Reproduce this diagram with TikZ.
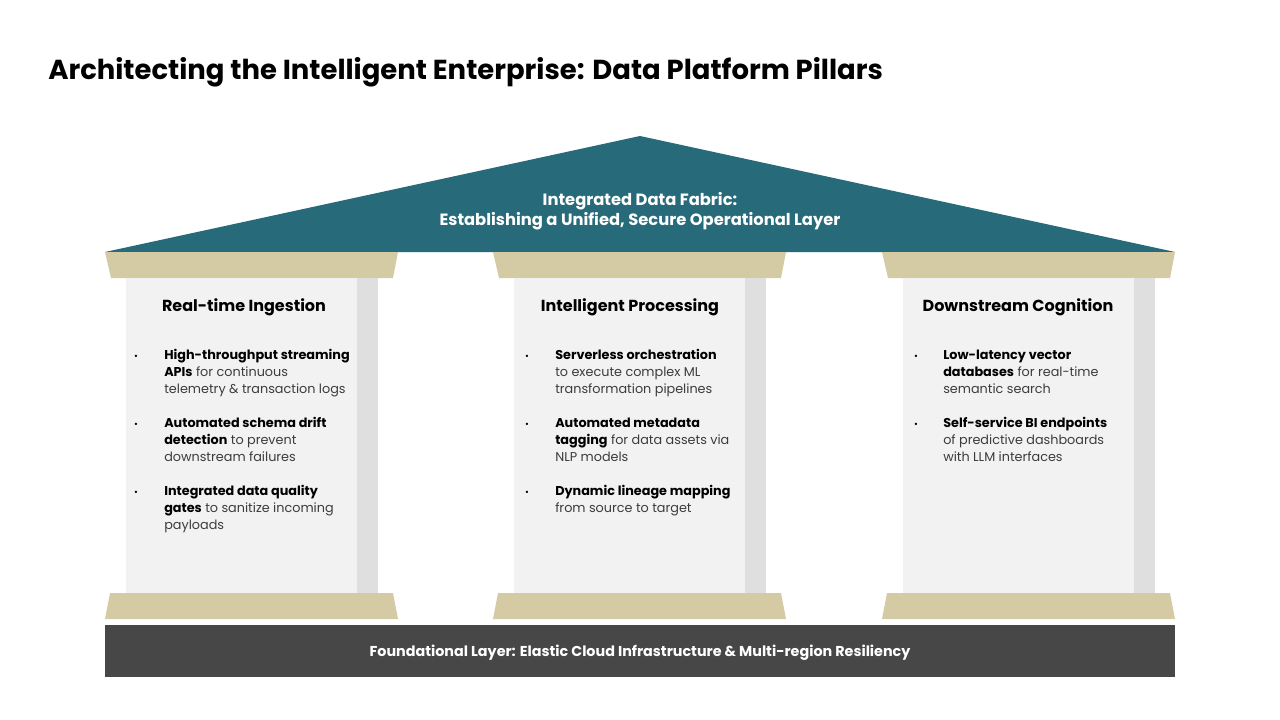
\documentclass[tikz,border=0pt]{standalone}
\usepackage{fontspec}
\setmainfont{Poppins}
\definecolor{roofc}{HTML}{276B7B}
\definecolor{tanc}{HTML}{D4CBA5}
\definecolor{shaftc}{HTML}{F2F2F2}
\definecolor{stripc}{HTML}{DFDFDF}
\definecolor{basec}{HTML}{474747}
\definecolor{bodyc}{HTML}{3C3C3C}
\begin{document}
\begin{tikzpicture}[x=0.75pt,y=-0.75pt,
  titletext/.style={anchor=base west,font=\fontsize{20.6}{24}\selectfont\bfseries,text=black,inner sep=0},
  headtext/.style={anchor=base,font=\fontsize{12}{15}\selectfont\bfseries,text=black,inner sep=0},
  bullettext/.style={anchor=base west,align=left,font=\fontsize{9.6}{12.75}\selectfont,text=bodyc,inner sep=0},
  bulletdot/.style={anchor=base,font=\fontsize{7}{8}\selectfont,text=black,inner sep=0},
  rooftext/.style={align=center,font=\fontsize{12.25}{13}\selectfont\bfseries,text=white,inner sep=0},
  basetext/.style={font=\fontsize{10.75}{12}\selectfont\bfseries,text=white,inner sep=0}]
\useasboundingbox (0,0) rectangle (1280,720);
\fill[white] (0,0) rectangle (1280,720);
% title
\node[titletext] (title) at (48,80) {Architecting the Intelligent Enterprise: Data Platform Pillars};
% roof
\fill[roofc] (105,252) -- (640,136) -- (1175,252) -- cycle;
\node[rooftext] (roof) at (640,211) {Integrated Data Fabric:\\[1pt]Establishing a Unified, Secure Operational Layer};
% pillars
\foreach \o in {0,388,777}{
  \fill[tanc] (105+\o,252) -- (398+\o,252) -- (393+\o,278) -- (111+\o,278) -- cycle;
  \fill[shaftc] (126+\o,278) rectangle (357+\o,593);
  \fill[stripc] (357+\o,278) rectangle (378+\o,593);
  \fill[tanc] (110+\o,593) -- (393+\o,593) -- (398+\o,619) -- (105+\o,619) -- cycle;
}
% foundation
\fill[basec] (105,625) rectangle (1175,677);
\node[basetext] (found) at (640,652.5) {Foundational Layer: Elastic Cloud Infrastructure \& Multi-region Resiliency};
% headings
\node[headtext] (h1) at (244,311) {Real-time Ingestion};
\node[headtext] (h2) at (630,311) {Intelligent Processing};
\node[headtext] (h3) at (1018,311) {Downstream Cognition};
% pillar 1 bullets (nodes anchored at the baseline of their last line)
\node[bulletdot] (d11) at (136,359) {•};
\node[bullettext] (b11) at (164,393) {\textbf{\color{black}High-throughput streaming}\\\textbf{\color{black}APIs} for continuous\\telemetry \& transaction logs};
\node[bulletdot] (d12) at (136,427) {•};
\node[bullettext] (b12) at (164,461) {\textbf{\color{black}Automated schema drift}\\\textbf{\color{black}detection} to prevent\\downstream failures};
\node[bulletdot] (d13) at (136,495) {•};
\node[bullettext] (b13) at (164,529) {\textbf{\color{black}Integrated data quality}\\\textbf{\color{black}gates} to sanitize incoming\\payloads};
% pillar 2 bullets
\node[bulletdot] (d21) at (527,359) {•};
\node[bullettext] (b21) at (555,393) {\textbf{\color{black}Serverless orchestration}\\to execute complex ML\\transformation pipelines};
\node[bulletdot] (d22) at (527,427) {•};
\node[bullettext] (b22) at (555,461) {\textbf{\color{black}Automated metadata}\\\textbf{\color{black}tagging} for data assets via\\NLP models};
\node[bulletdot] (d23) at (527,495) {•};
\node[bullettext] (b23) at (555,512) {\textbf{\color{black}Dynamic lineage mapping}\\from source to target};
% pillar 3 bullets
\node[bulletdot] (d31) at (916,359) {•};
\node[bullettext] (b31) at (943,393) {\textbf{\color{black}Low-latency vector}\\\textbf{\color{black}databases} for real-time\\semantic search};
\node[bulletdot] (d32) at (916,427) {•};
\node[bullettext] (b32) at (943,461) {\textbf{\color{black}Self-service BI endpoints}\\of predictive dashboards\\with LLM interfaces};
\end{tikzpicture}
\end{document}
